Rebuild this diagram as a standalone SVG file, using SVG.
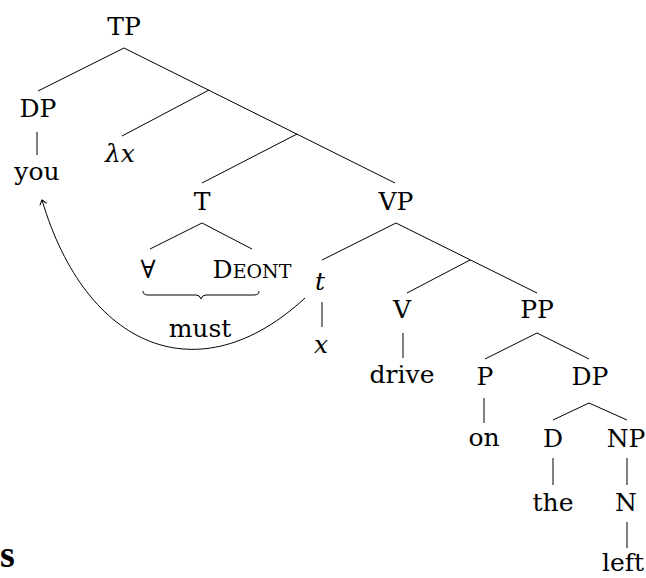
<svg xmlns="http://www.w3.org/2000/svg" width="646" height="578" viewBox="0 0 646 578">
<style>
text{font-family:"DejaVu Serif","Liberation Serif",serif;font-size:25px;fill:#000;text-anchor:middle}
.i{font-style:italic}
.e line,.e path{stroke:#000;stroke-width:1;fill:none}
</style>
<defs>
<marker id="ah" markerUnits="userSpaceOnUse" markerWidth="12" markerHeight="12" viewBox="-6 -6 12 12" refX="0" refY="0" orient="auto">
<path d="M-4.5,-3.5 Q-1.2,-1 0,0 Q-1.2,1 -4.5,3.5" stroke="#000" stroke-width="1" fill="none"/>
</marker>
</defs>
<rect width="646" height="578" fill="#fff"/>
<g id="edges" class="e">
<line x1="124" y1="48" x2="38" y2="91"/>
<line x1="124" y1="48" x2="395" y2="183"/>
<line x1="209" y1="90" x2="122" y2="136"/>
<line x1="297" y1="134" x2="202" y2="183"/>
<line x1="37" y1="132" x2="37" y2="155"/>
<line x1="202" y1="223" x2="150" y2="249"/>
<line x1="202" y1="223" x2="252" y2="249"/>
<line x1="396" y1="223" x2="322" y2="260"/>
<line x1="396" y1="223" x2="537" y2="293"/>
<line x1="470" y1="260" x2="407" y2="293"/>
<line x1="322" y1="302" x2="322" y2="327"/>
<line x1="403" y1="333" x2="403" y2="358"/>
<line x1="537" y1="333" x2="485" y2="359"/>
<line x1="537" y1="333" x2="589" y2="359"/>
<line x1="484" y1="398" x2="484" y2="423"/>
<line x1="589" y1="403" x2="553" y2="420"/>
<line x1="589" y1="403" x2="627" y2="420"/>
<line x1="553" y1="458" x2="553" y2="485"/>
<line x1="627" y1="458" x2="627" y2="485"/>
<line x1="627" y1="522" x2="627" y2="548"/>
<path d="M143,291 Q143,295 148,295 L196,295 Q200,295 201,299 Q202,295 206,295 L254,295 Q259,295 259,291"/>
<path d="M305,298 C199,396 86,348.5 42,200" marker-end="url(#ah)"/>
</g>
<g id="n-TP"><text x="124" y="35">TP</text></g>
<g id="n-DP1"><text x="38" y="117">DP</text></g>
<g id="n-you"><text x="37" y="180">you</text></g>
<g id="n-lx"><text class="i" x="120" y="162">λx</text></g>
<g id="n-T"><text x="202" y="210">T</text></g>
<g id="n-VP"><text x="396" y="210">VP</text></g>
<g id="n-forall"><text x="148" y="278">∀</text></g>
<g id="n-deont"><text x="252" y="278">D<tspan font-size="19">EONT</tspan></text></g>
<g id="n-must"><text x="200" y="337">must</text></g>
<g id="n-t"><text class="i" x="320" y="290">t</text></g>
<g id="n-x"><text class="i" x="321" y="353">x</text></g>
<g id="n-V"><text x="402" y="318">V</text></g>
<g id="n-PP"><text x="537" y="318">PP</text></g>
<g id="n-drive"><text x="402" y="383">drive</text></g>
<g id="n-P"><text x="485" y="385">P</text></g>
<g id="n-DP2"><text x="590" y="385">DP</text></g>
<g id="n-on"><text x="484" y="446">on</text></g>
<g id="n-D"><text x="553" y="447">D</text></g>
<g id="n-NP"><text x="626" y="447">NP</text></g>
<g id="n-the"><text x="553" y="511">the</text></g>
<g id="n-N"><text x="626" y="511">N</text></g>
<g id="n-left"><text x="623" y="571">left</text></g>
<text x="0" y="567" style="text-anchor:start;font-family:'Liberation Serif',serif;font-weight:bold;font-size:38px">s</text>
</svg>
